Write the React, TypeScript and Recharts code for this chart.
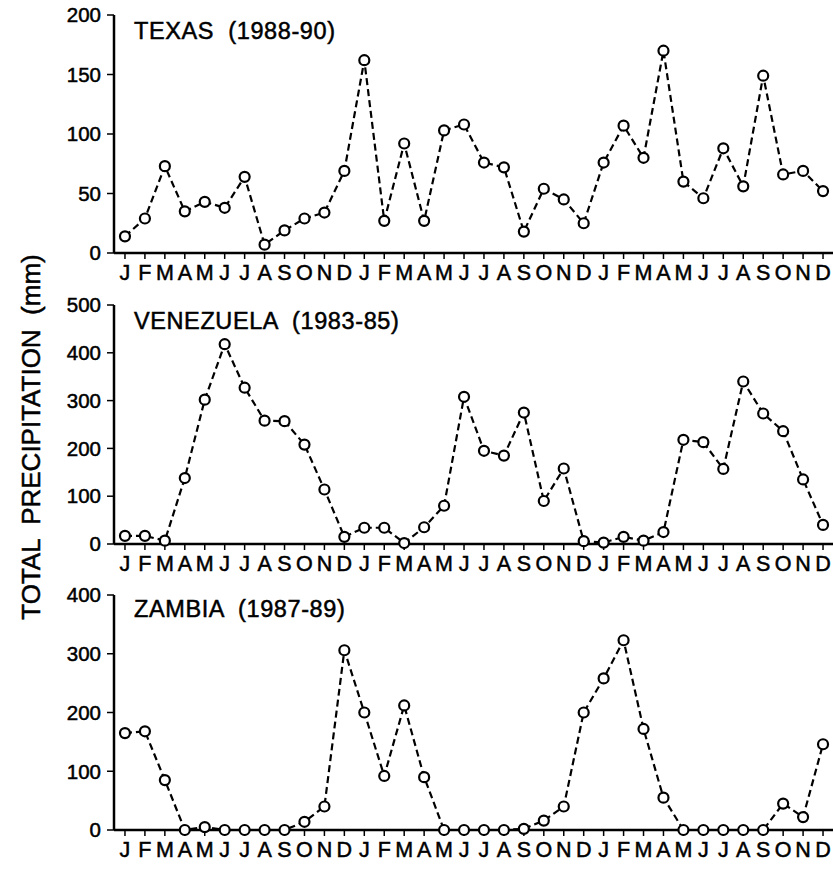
import React from 'react'
import { LineChart, Line, XAxis, YAxis } from 'recharts'

const MONTHS = ['J', 'F', 'M', 'A', 'M', 'J', 'J', 'A', 'S', 'O', 'N', 'D']

const TEXAS = [
    14, 29, 73, 35, 43, 38, 64, 7, 19, 29, 34, 69,
    162, 27, 92, 27, 103, 108, 76, 72, 18, 54, 45, 25,
    76, 107, 80, 170, 60, 46, 88, 56, 149, 66, 69, 52,
]

const VENEZUELA = [
    17, 17, 7, 138, 302, 418, 327, 258, 257, 208, 114, 15,
    34, 34, 2, 35, 80, 308, 195, 185, 275, 90, 158, 6,
    3, 15, 7, 25, 218, 213, 157, 340, 273, 236, 135, 40,
]

const ZAMBIA = [
    165, 168, 85, 0, 5, 0, 0, 0, 0, 14, 40, 306,
    200, 92, 212, 90, 0, 0, 0, 0, 2, 16, 40, 200,
    258, 323, 172, 55, 0, 0, 0, 0, 0, 45, 22, 146,
]

const TEXAS_TICKS = [0, 50, 100, 150, 200]
const VENEZUELA_TICKS = [0, 100, 200, 300, 400, 500]
const ZAMBIA_TICKS = [0, 100, 200, 300, 400]

const FONT = '"Liberation Sans", Arial, Helvetica, sans-serif'
const INDEX = TEXAS.map((_, i) => i)

const textStyle: React.CSSProperties = {
    position: 'absolute',
    fontFamily: FONT,
    whiteSpace: 'pre',
    color: '#000',
    WebkitTextStroke: '0.5px #000',
}

function Panel({
    values,
    ticks,
    top,
    height,
    title,
    titleTop,
}: {
    values: number[]
    ticks: number[]
    top: number
    height: number
    title: string
    titleTop: number
}) {
    const data = values.map((v, i) => ({ i, v }))
    const max = ticks[ticks.length - 1]
    return (
        <>
            <div style={{ position: 'absolute', left: 0, top }}>
                <LineChart
                    width={833}
                    height={height + 50}
                    data={data}
                    margin={{ top: 15, right: 0, bottom: 0, left: 0 }}>
                    <XAxis
                        type="number"
                        dataKey="i"
                        domain={[-0.55, 35.5]}
                        ticks={INDEX}
                        interval={0}
                        tickFormatter={(i: number) => MONTHS[i % 12]}
                        height={35}
                        tickSize={6}
                        tickMargin={6}
                        axisLine={{ stroke: '#000', strokeWidth: 2.5 }}
                        tickLine={{ stroke: '#000', strokeWidth: 1.5 }}
                        tick={{ fill: '#000', stroke: '#000', strokeWidth: 0.5, fontSize: 21.5, fontFamily: FONT }}
                    />
                    <YAxis
                        type="number"
                        domain={[0, max]}
                        ticks={ticks}
                        interval={0}
                        width={114}
                        tickSize={7}
                        tickMargin={6}
                        axisLine={{ stroke: '#000', strokeWidth: 2.5 }}
                        tickLine={{ stroke: '#000', strokeWidth: 1.5 }}
                        tick={{ fill: '#000', stroke: '#000', strokeWidth: 0.5, fontSize: 20.5, fontFamily: FONT }}
                    />
                    <Line
                        type="linear"
                        dataKey="v"
                        stroke="#000"
                        strokeWidth={2.2}
                        strokeDasharray="7 4"
                        dot={{ r: 5, stroke: '#000', strokeWidth: 2.2, fill: '#fff', strokeDasharray: 'none' }}
                        isAnimationActive={false}
                    />
                </LineChart>
            </div>
            <div style={{ ...textStyle, left: 134, top: titleTop, fontSize: 23.5, lineHeight: '23.5px', letterSpacing: 0.6 }}>
                {title}
            </div>
        </>
    )
}

export default function App() {
    return (
        <div
            style={{
                position: 'absolute',
                left: 0,
                top: 0,
                width: 833,
                height: 869,
                background: '#fff',
                overflow: 'hidden',
            }}>
            <Panel values={TEXAS} ticks={TEXAS_TICKS} top={0} height={238} title="TEXAS  (1988-90)" titleTop={20} />
            <Panel values={VENEZUELA} ticks={VENEZUELA_TICKS} top={290} height={239} title="VENEZUELA  (1983-85)" titleTop={310} />
            <Panel values={ZAMBIA} ticks={ZAMBIA_TICKS} top={580} height={235} title="ZAMBIA  (1987-89)" titleTop={598} />
            <div
                style={{
                    ...textStyle,
                    left: 31,
                    top: 437,
                    transform: 'translate(-50%, -50%) rotate(-90deg)',
                    fontSize: 26,
                    lineHeight: '26px',
                }}>
                TOTAL  PRECIPITATION  (mm)
            </div>
        </div>
    )
}
